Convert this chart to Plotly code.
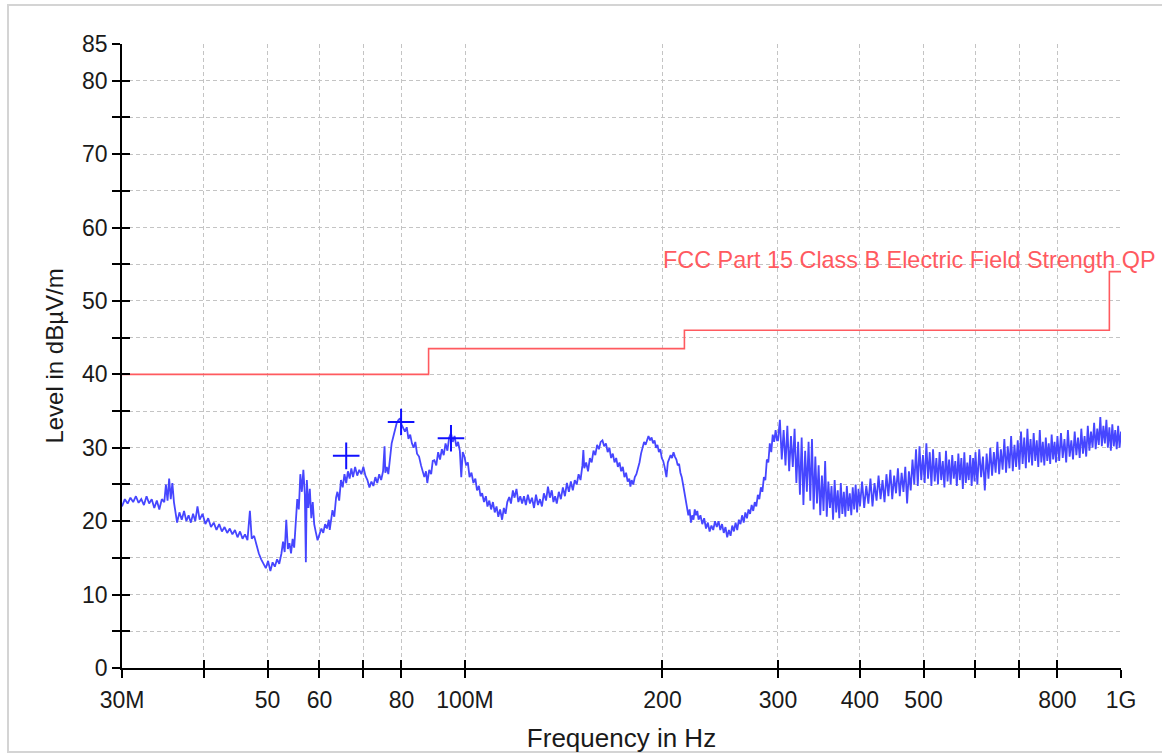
import plotly.graph_objects as go
import math

# ---------------- data (frequency in MHz, level in dBuV/m) ----------------
scan_freq_a = [30.0, 30.3, 30.6, 30.9, 31.2, 31.5, 31.8, 32.1, 32.4, 32.7, 33.0, 33.3, 33.6, 33.9,
               34.2, 34.5, 34.8, 35.0, 35.2, 35.4, 35.6, 35.8, 36.0, 36.2, 36.4, 36.7, 37.0, 37.3,
               37.6, 37.9, 38.2, 38.5, 38.8, 39.1, 39.4, 39.8, 40.2, 40.6, 41.0, 41.4, 41.8, 42.2,
               42.6, 43.0, 43.4, 43.8, 44.2, 44.6, 45.0, 45.4, 45.8, 46.2, 46.6, 47.0, 47.3, 47.7,
               48.1, 48.5, 48.9, 49.3, 49.7, 50.1, 50.5, 50.9, 51.3, 51.7, 52.1, 52.5, 52.8, 53.1,
               53.4, 53.7, 54.0, 54.3, 54.6, 54.9, 55.2, 55.5, 55.8, 56.1, 56.4, 56.7, 57.0, 57.2,
               57.4, 57.7, 58.0, 58.3, 58.6, 58.9, 59.2, 59.6, 60.0, 60.4, 60.8, 61.2, 61.6, 62.0]
scan_level_a = [22.0, 23.0, 22.4, 23.2, 22.6, 23.4, 22.5, 23.0, 22.2, 23.4, 22.4, 23.0, 21.8, 22.8,
                21.6, 23.0, 22.6, 25.0, 22.8, 25.8, 23.0, 25.2, 22.6, 21.0, 19.8, 21.2, 20.2, 21.4,
                20.0, 20.8, 19.8, 21.0, 20.0, 22.0, 20.2, 21.0, 19.6, 20.4, 19.2, 19.8, 18.8, 19.6,
                18.6, 19.2, 18.4, 19.0, 18.2, 18.8, 17.8, 18.6, 17.6, 18.2, 17.4, 21.4, 17.6, 18.0,
                16.6, 15.6, 14.8, 14.2, 13.6, 14.6, 13.2, 14.4, 13.8, 14.8, 14.2, 15.6, 17.2, 15.8,
                20.2, 16.2, 17.0, 15.6, 17.6, 16.4, 19.2, 23.0, 21.6, 26.4, 24.0, 27.0, 23.6, 14.4,
                25.6, 21.8, 24.4, 20.4, 22.6, 19.6, 18.6, 17.4, 18.2, 19.0, 18.4, 19.6, 19.0, 20.2]

scan_freq_b = [62.2, 62.5, 62.8, 63.2, 63.6, 63.9, 64.3, 64.7, 65.1, 65.5, 65.9, 66.3, 66.7, 67.1,
               67.5, 68.0, 68.5, 69.0, 69.5, 70.0, 70.5, 71.0, 71.5, 72.0, 72.5, 73.0, 73.5, 74.0,
               74.5, 75.0, 75.4, 75.6, 76.0, 76.4, 76.8, 77.3, 77.8, 78.3, 78.7, 79.2, 79.6, 80.0,
               80.5, 81.0, 81.5, 82.0, 82.5, 83.0, 83.5, 84.0, 84.5, 85.1, 85.7, 86.2, 86.7, 87.2,
               87.6, 88.2, 88.8, 89.3, 89.8, 90.4, 91.0, 91.6, 92.2, 92.8, 93.4, 94.0, 94.6, 95.2,
               95.8, 96.4, 97.0, 97.6, 98.2, 98.7, 99.2, 99.8, 100.4, 101.0, 101.6, 102.3, 103.0,
               103.7, 104.3, 105.0, 105.6, 106.2, 106.9, 107.6, 108.2, 108.9, 109.6, 110.3, 111.0,
               111.7, 112.4, 113.1, 113.9, 114.6, 115.3, 116.0, 116.8, 117.5, 118.3, 119.0, 119.8,
               120.6, 121.4, 122.2, 123.0, 123.8, 124.7, 125.6, 126.5, 127.4, 128.3, 129.2, 130.1,
               131.0, 131.9, 132.9, 133.8, 134.7, 135.6, 136.4, 137.2]
scan_level_b = [18.8, 20.4, 21.5, 20.6, 23.2, 24.0, 22.8, 25.6, 24.6, 26.4, 25.2, 26.8, 25.8, 27.2,
                26.0, 27.4, 26.2, 27.0, 26.4, 27.4, 26.2, 25.6, 24.6, 25.4, 24.8, 26.0, 25.2, 26.4,
                25.6, 26.8, 30.2, 26.6, 27.4, 26.4, 28.8, 30.6, 31.6, 32.8, 33.4, 33.8, 34.0, 33.2,
                32.6, 32.2, 32.8, 31.2, 31.8, 30.6, 30.0, 30.8, 29.2, 28.8, 27.6, 26.8, 26.0, 26.8,
                25.2, 27.0, 26.4, 28.2, 28.3, 27.6, 29.4, 28.4, 29.8, 29.0, 30.6, 29.6, 31.4, 32.0,
                30.8, 31.6, 30.2, 30.8, 29.6, 26.0, 29.4, 28.8, 27.6, 28.0, 26.0, 26.6, 25.2,
                25.8, 24.2, 24.8, 23.4, 23.8, 22.6, 23.4, 22.0, 22.8, 21.6, 22.6, 21.2,
                22.0, 20.6, 21.6, 20.2, 21.8, 21.0, 22.6, 23.3, 22.4, 24.2, 23.2, 24.4,
                22.6, 23.4, 22.4, 23.4, 22.2, 23.6, 22.4, 23.2, 21.8, 23.6, 22.2, 23.0,
                22.0, 23.8, 22.8, 24.7, 23.2, 24.2, 22.6, 23.4]

scan_freq_c = [138.0, 139.0, 140.0, 141.0, 142.0, 143.0, 144.0, 145.0, 146.0, 147.0, 148.0, 149.0,
               150.0, 151.0, 151.5, 152.0, 153.0, 154.0, 155.0, 156.0, 157.0, 158.0, 159.0, 160.0,
               161.0, 162.0, 163.0, 164.0, 165.0, 166.0, 167.0, 168.0, 169.0, 170.0, 171.0, 172.0,
               173.0, 174.0, 175.0, 176.0, 177.0, 178.0, 178.7, 179.5, 180.5, 181.5, 182.5, 183.5,
               184.5, 185.5, 186.5, 187.5, 188.5, 189.5, 190.4, 191.5, 192.5, 193.5, 194.5, 195.5,
               196.5, 197.5, 198.5, 199.5, 200.5, 201.5, 202.8, 203.8, 204.8, 205.8, 206.8, 207.9,
               208.9, 210.0, 211.0, 212.0, 213.0, 214.0, 215.0, 216.0, 217.0, 218.0, 219.0, 220.0,
               221.0, 222.0, 223.0, 224.0, 225.0, 226.0, 227.0, 228.5, 230.0, 231.5, 233.0, 234.5,
               236.0, 237.5, 239.0, 240.5, 242.0, 243.5, 245.0, 246.5, 248.0, 249.5, 251.0, 252.5,
               254.0, 255.5, 257.0, 258.5, 260.0, 261.5, 263.0, 264.5, 266.0, 267.5, 269.0, 270.5,
               272.0, 273.5, 275.0, 276.5, 278.0, 279.5, 281.0, 282.5, 284.0, 285.5, 287.0, 288.5,
               290.0, 291.5, 293.0, 294.5, 296.0, 297.5, 299.0]
scan_level_c = [22.4, 24.0, 23.0, 24.6, 23.4, 25.2, 24.0, 25.4, 24.2, 25.6, 25.0, 26.4,
                25.6, 27.6, 29.7, 27.2, 28.0, 26.8, 28.6, 28.0, 29.6, 29.0, 30.4, 29.8,
                30.8, 31.0, 30.2, 30.6, 29.4, 30.0, 28.6, 29.2, 28.0, 28.6, 27.4, 28.0,
                26.8, 27.4, 26.0, 26.6, 25.4, 25.8, 24.7, 25.6, 25.0, 26.0, 26.4, 27.2,
                28.0, 29.2, 30.0, 30.8, 30.4, 31.2, 31.6, 31.0, 31.4, 30.6, 31.0, 30.0,
                30.4, 29.4, 29.8, 28.6, 28.2, 27.4, 26.0, 28.0, 28.4, 29.0, 28.6, 29.4,
                28.8, 28.4, 27.6, 27.8, 26.6, 26.0, 25.0, 23.8, 22.6, 21.4, 20.8, 21.6,
                19.8, 20.8, 20.2, 21.6, 20.8, 21.4, 20.2, 20.8, 19.6, 20.4, 19.0, 19.8,
                18.6, 19.4, 18.8, 20.0, 19.2, 20.0, 18.8, 19.6, 18.4, 19.2, 17.8, 18.8,
                18.0, 19.4, 18.6, 19.8, 18.8, 20.2, 19.6, 20.8, 19.8, 21.2, 20.4, 21.6,
                21.0, 22.2, 21.4, 22.6, 22.0, 23.6, 23.0, 24.6, 24.0, 26.0, 25.6, 28.4,
                28.0, 30.6, 29.4, 31.8, 30.8, 32.4, 31.0]

scan_freq_d = [300, 302, 304, 306, 308, 310, 312, 314, 316, 318, 320, 322, 324, 326, 328, 330,
               332, 334, 336, 338, 340, 342, 344, 346, 348, 350, 352, 354, 356, 358, 360, 362,
               364, 366, 368, 370, 372, 374, 376, 378, 380, 382, 384, 386, 388, 390, 392, 394,
               396, 398, 400,
               403, 406, 409, 412, 415, 418, 421, 424, 427, 430, 433, 436, 439, 442, 445, 448,
               451, 454, 457, 460, 463, 466, 469, 472, 475, 478, 481, 484, 487, 490, 493, 496,
               499, 502, 505, 508, 511, 514, 517, 520, 523, 526, 529, 532, 535, 538, 541, 544,
               547, 550, 553, 556, 559, 562, 565, 568, 571, 574, 577, 580, 583, 586, 589, 592,
               595, 598, 600,
               604, 608, 612, 616, 620, 624, 628, 632, 636, 640, 644, 648, 652, 656, 660, 664,
               668, 672, 676, 680, 684, 688, 692, 696, 700, 704, 708, 712, 716, 720, 724, 728,
               732, 736, 740, 744, 748, 752, 756, 760, 764, 768, 772, 776, 780, 784, 788, 792,
               796, 800,
               805, 810, 815, 820, 825, 830, 835, 840, 845, 850, 855, 860, 865, 870, 875, 880,
               885, 890, 895, 900, 905, 910, 915, 920, 925, 930, 935, 940, 945, 950, 955, 960,
               965, 970, 975, 980, 985, 990, 995, 1000]
scan_level_d = [31.0, 33.8, 28.4, 32.4, 27.6, 33.0, 26.8, 31.6, 27.4, 32.6, 25.2, 30.8, 23.6, 31.4,
                22.2, 29.6, 24.0, 30.8, 22.8, 31.2, 21.6, 28.8, 22.4, 27.6, 20.8, 26.2, 21.4, 28.2,
                20.6, 25.4, 21.8, 24.8, 20.2, 25.6, 21.2, 24.2, 20.4, 25.2, 21.0, 24.0, 20.6, 24.8,
                21.4, 23.8, 20.8, 24.6, 21.6, 25.0, 21.2, 24.4, 22.0,
                25.4, 21.8, 24.8, 22.4, 25.8, 22.0, 25.2, 22.8, 26.2, 23.0, 25.6, 22.6, 26.4, 23.4,
                27.0, 23.0, 26.2, 23.8, 27.2, 23.4, 26.6, 24.0, 27.4, 22.4, 26.8, 24.2, 28.4, 25.0,
                29.8, 24.8, 30.2, 25.6, 29.0, 25.2, 30.6, 25.8, 29.4, 24.8, 29.8, 25.4, 28.6, 25.0,
                29.4, 25.6, 28.2, 24.6, 29.6, 25.4, 28.4, 25.0, 29.0, 25.8, 28.2, 24.8, 29.2, 25.6,
                28.6, 24.4, 29.4, 25.2, 28.0, 25.6, 29.0, 24.8, 28.6, 25.4, 29.4,
                25.0, 29.8, 26.0, 28.8, 24.2, 29.2, 25.8, 30.0, 26.2, 29.4, 26.6, 30.8, 26.4, 29.8,
                27.0, 31.2, 26.6, 30.2, 27.2, 31.6, 26.8, 30.4, 27.4, 31.0, 27.0, 32.2, 27.8, 31.4,
                27.2, 32.6, 28.0, 31.2, 27.6, 32.0, 28.2, 31.0, 27.4, 32.4, 28.0, 30.8, 27.6, 31.4,
                28.2, 30.6, 27.8, 31.8, 28.4, 30.8, 28.0, 31.6,
                28.2, 32.0, 28.6, 31.2, 28.0, 32.4, 28.8, 31.0, 28.4, 32.2, 29.0, 31.4, 28.6, 32.6,
                29.2, 31.6, 28.8, 33.0, 29.6, 32.2, 30.0, 33.4, 29.8, 32.6, 30.4, 34.2, 30.2, 33.0,
                30.6, 33.8, 30.0, 32.8, 29.6, 33.2, 30.2, 32.4, 29.8, 33.0, 30.0, 32.2]

# FCC Part 15 Class B limit (step line)
limit_freq = [30, 88, 88, 216, 216, 960, 960, 1000]
limit_level = [40.0, 40.0, 43.5, 43.5, 46.0, 46.0, 54.0, 54.0]
limit_name = "FCC Part 15 Class B Electric Field Strength QP"

# peak markers
peak_freq = [65.9, 79.9, 95.2]
peak_level = [28.9, 33.5, 31.3]

# axis ticks
x_tickvals = [30, 40, 50, 60, 70, 80, 100, 200, 300, 400, 500, 600, 700, 800, 1000]
x_ticktext = ["30M", "", "50", "60", "", "80", "100M", "200", "300", "400", "500", "", "", "800", "1G"]
y_tickvals = [0, 5, 10, 15, 20, 25, 30, 35, 40, 45, 50, 55, 60, 65, 70, 75, 80, 85]
y_ticktext = ["0", "", "10", "", "20", "", "30", "", "40", "", "50", "", "60", "", "70", "", "80", "85"]

scan_freq = scan_freq_a + scan_freq_b + scan_freq_c + scan_freq_d
scan_level = scan_level_a + scan_level_b + scan_level_c + scan_level_d

# ---------------- figure ----------------
FONT = "Liberation Sans, Arial, sans-serif"
TXT = "#1a1a1a"
BLUE = "#4646ff"
RED = "#ff5a5f"

fig = go.Figure()
fig.add_trace(go.Scatter(x=limit_freq, y=limit_level, mode="lines",
                         line=dict(color=RED, width=1.6), hoverinfo="skip", showlegend=False))
fig.add_trace(go.Scatter(x=scan_freq, y=scan_level, mode="lines",
                         line=dict(color=BLUE, width=1.8), showlegend=False))
fig.add_trace(go.Scatter(x=peak_freq, y=peak_level, mode="markers",
                         marker=dict(symbol="cross-thin", size=19, line=dict(color="#1010ff", width=2)),
                         showlegend=False))

xr = [math.log10(30), math.log10(1000)]
yr = [0, 85]

fig.update_layout(
    width=1162, height=755,
    margin=dict(l=122, r=41, t=44, b=87),
    paper_bgcolor="white", plot_bgcolor="white",
    font=dict(family=FONT, size=23, color=TXT),
    xaxis=dict(type="log", range=xr, tickvals=x_tickvals, ticktext=x_ticktext, automargin=False,
               showline=True, linecolor="black", linewidth=1.5,
               ticks="outside", ticklen=8, tickwidth=1.5, tickcolor="black",
               ticklabelstandoff=3,
               showgrid=True, gridcolor="#c4c4c4", gridwidth=1, griddash="4px,3px",
               zeroline=False, tickfont=dict(size=23, color=TXT),
               title=dict(text="Frequency in Hz", font=dict(size=26, color=TXT), standoff=16)),
    yaxis=dict(range=yr, tickvals=y_tickvals, ticktext=y_ticktext, automargin=False,
               showline=True, linecolor="black", linewidth=1.5,
               ticks="outside", ticklen=8, tickwidth=1.5, tickcolor="black",
               ticklabelstandoff=0,
               showgrid=True, gridcolor="#c4c4c4", gridwidth=1, griddash="4px,3px",
               zeroline=False, tickfont=dict(size=23, color=TXT),
               title=dict(text="Level in dBµV/m", font=dict(size=24, color=TXT), standoff=12)),
    xaxis2=dict(type="log", range=xr, tickvals=x_tickvals, overlaying="x", anchor="y2", side="bottom",
                showticklabels=False, showgrid=False, showline=False, zeroline=False, automargin=False,
                ticks="inside", ticklen=8, tickwidth=1.5, tickcolor="black"),
    yaxis2=dict(range=yr, tickvals=y_tickvals, overlaying="y", anchor="x2", side="left",
                showticklabels=False, showgrid=False, showline=False, zeroline=False, automargin=False,
                ticks="inside", ticklen=8, tickwidth=1.5, tickcolor="black"),
    annotations=[dict(x=math.log10(199), y=55.6, xref="x", yref="y", text=limit_name,
                      showarrow=False, xanchor="left", yanchor="middle",
                      font=dict(family=FONT, size=23.4, color=RED))],
    shapes=[dict(type="rect", xref="paper", yref="paper",
                 x0=-0.1141, x1=1.3, y0=-0.1346, y1=1.0625,
                 line=dict(color="#d4d4d4", width=2), fillcolor="rgba(0,0,0,0)", layer="below")],
)
# invisible trace to activate the overlay axes
fig.add_trace(go.Scatter(x=[30], y=[0], xaxis="x2", yaxis="y2", mode="markers",
                         marker=dict(opacity=0), hoverinfo="skip", showlegend=False))

fig.write_html("out.html", config={"displayModeBar": False},
               post_script="document.body.style.margin='0';")
